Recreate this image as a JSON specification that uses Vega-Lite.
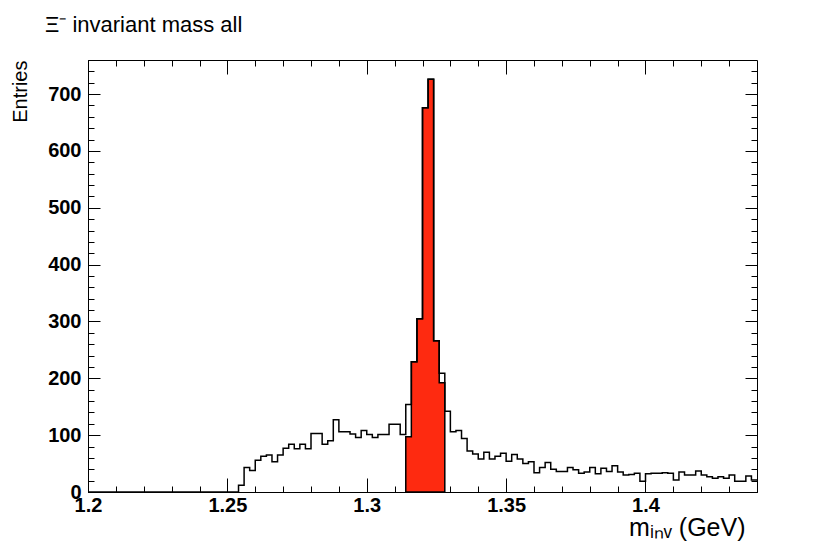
{
  "$schema": "https://vega.github.io/schema/vega-lite/v6.json",
  "autosize": {"type": "none"},
  "padding": {"left": 88, "top": 60, "right": 73, "bottom": 55},
  "width": 669,
  "height": 432,
  "background": "white",
  "title": {
    "text": "Ξ⁻ invariant mass all",
    "anchor": "start",
    "frame": "group",
    "dx": -43,
    "offset": 6,
    "baseline": "alphabetic",
    "font": "Liberation Sans",
    "fontSize": 22,
    "fontWeight": "normal",
    "color": "black"
  },
  "config": {
    "view": {"stroke": "black", "strokeWidth": 1},
    "axis": {"grid": false, "tickColor": "black", "domainColor": "black", "labelColor": "black", "titleColor": "black", "tickWidth": 1}
  },
  "datasets": {
    "all": [
      {"lo": 1.200, "hi": 1.202, "n": 0},
      {"lo": 1.202, "hi": 1.204, "n": 0},
      {"lo": 1.204, "hi": 1.206, "n": 0},
      {"lo": 1.206, "hi": 1.208, "n": 0},
      {"lo": 1.208, "hi": 1.210, "n": 0},
      {"lo": 1.210, "hi": 1.212, "n": 0},
      {"lo": 1.212, "hi": 1.214, "n": 0},
      {"lo": 1.214, "hi": 1.216, "n": 0},
      {"lo": 1.216, "hi": 1.218, "n": 0},
      {"lo": 1.218, "hi": 1.220, "n": 0},
      {"lo": 1.220, "hi": 1.222, "n": 0},
      {"lo": 1.222, "hi": 1.224, "n": 0},
      {"lo": 1.224, "hi": 1.226, "n": 0},
      {"lo": 1.226, "hi": 1.228, "n": 0},
      {"lo": 1.228, "hi": 1.230, "n": 0},
      {"lo": 1.230, "hi": 1.232, "n": 0},
      {"lo": 1.232, "hi": 1.234, "n": 0},
      {"lo": 1.234, "hi": 1.236, "n": 0},
      {"lo": 1.236, "hi": 1.238, "n": 0},
      {"lo": 1.238, "hi": 1.240, "n": 0},
      {"lo": 1.240, "hi": 1.242, "n": 0},
      {"lo": 1.242, "hi": 1.244, "n": 0},
      {"lo": 1.244, "hi": 1.246, "n": 0},
      {"lo": 1.246, "hi": 1.248, "n": 0},
      {"lo": 1.248, "hi": 1.250, "n": 0},
      {"lo": 1.250, "hi": 1.252, "n": 0},
      {"lo": 1.252, "hi": 1.254, "n": 0},
      {"lo": 1.254, "hi": 1.256, "n": 12},
      {"lo": 1.256, "hi": 1.258, "n": 43},
      {"lo": 1.258, "hi": 1.260, "n": 38},
      {"lo": 1.260, "hi": 1.262, "n": 56},
      {"lo": 1.262, "hi": 1.264, "n": 63},
      {"lo": 1.264, "hi": 1.266, "n": 65},
      {"lo": 1.266, "hi": 1.268, "n": 53},
      {"lo": 1.268, "hi": 1.270, "n": 65},
      {"lo": 1.270, "hi": 1.272, "n": 77},
      {"lo": 1.272, "hi": 1.274, "n": 84},
      {"lo": 1.274, "hi": 1.276, "n": 76},
      {"lo": 1.276, "hi": 1.278, "n": 84},
      {"lo": 1.278, "hi": 1.280, "n": 76},
      {"lo": 1.280, "hi": 1.282, "n": 103},
      {"lo": 1.282, "hi": 1.284, "n": 103},
      {"lo": 1.284, "hi": 1.286, "n": 84},
      {"lo": 1.286, "hi": 1.288, "n": 90},
      {"lo": 1.288, "hi": 1.290, "n": 127},
      {"lo": 1.290, "hi": 1.292, "n": 106},
      {"lo": 1.292, "hi": 1.294, "n": 106},
      {"lo": 1.294, "hi": 1.296, "n": 102},
      {"lo": 1.296, "hi": 1.298, "n": 96},
      {"lo": 1.298, "hi": 1.300, "n": 108},
      {"lo": 1.300, "hi": 1.302, "n": 101},
      {"lo": 1.302, "hi": 1.304, "n": 96},
      {"lo": 1.304, "hi": 1.306, "n": 101},
      {"lo": 1.306, "hi": 1.308, "n": 101},
      {"lo": 1.308, "hi": 1.310, "n": 119},
      {"lo": 1.310, "hi": 1.312, "n": 119},
      {"lo": 1.312, "hi": 1.314, "n": 101},
      {"lo": 1.314, "hi": 1.316, "n": 154},
      {"lo": 1.316, "hi": 1.318, "n": 229},
      {"lo": 1.318, "hi": 1.320, "n": 305},
      {"lo": 1.320, "hi": 1.322, "n": 676},
      {"lo": 1.322, "hi": 1.324, "n": 726},
      {"lo": 1.324, "hi": 1.326, "n": 266},
      {"lo": 1.326, "hi": 1.328, "n": 209},
      {"lo": 1.328, "hi": 1.330, "n": 142},
      {"lo": 1.330, "hi": 1.332, "n": 106},
      {"lo": 1.332, "hi": 1.334, "n": 108},
      {"lo": 1.334, "hi": 1.336, "n": 94},
      {"lo": 1.336, "hi": 1.338, "n": 72},
      {"lo": 1.338, "hi": 1.340, "n": 67},
      {"lo": 1.340, "hi": 1.342, "n": 58},
      {"lo": 1.342, "hi": 1.344, "n": 70},
      {"lo": 1.344, "hi": 1.346, "n": 58},
      {"lo": 1.346, "hi": 1.348, "n": 63},
      {"lo": 1.348, "hi": 1.350, "n": 68},
      {"lo": 1.350, "hi": 1.352, "n": 54},
      {"lo": 1.352, "hi": 1.354, "n": 66},
      {"lo": 1.354, "hi": 1.356, "n": 58},
      {"lo": 1.356, "hi": 1.358, "n": 50},
      {"lo": 1.358, "hi": 1.360, "n": 53},
      {"lo": 1.360, "hi": 1.362, "n": 34},
      {"lo": 1.362, "hi": 1.364, "n": 43},
      {"lo": 1.364, "hi": 1.366, "n": 52},
      {"lo": 1.366, "hi": 1.368, "n": 40},
      {"lo": 1.368, "hi": 1.370, "n": 36},
      {"lo": 1.370, "hi": 1.372, "n": 36},
      {"lo": 1.372, "hi": 1.374, "n": 43},
      {"lo": 1.374, "hi": 1.376, "n": 39},
      {"lo": 1.376, "hi": 1.378, "n": 33},
      {"lo": 1.378, "hi": 1.380, "n": 35},
      {"lo": 1.380, "hi": 1.382, "n": 43},
      {"lo": 1.382, "hi": 1.384, "n": 32},
      {"lo": 1.384, "hi": 1.386, "n": 42},
      {"lo": 1.386, "hi": 1.388, "n": 36},
      {"lo": 1.388, "hi": 1.390, "n": 46},
      {"lo": 1.390, "hi": 1.392, "n": 35},
      {"lo": 1.392, "hi": 1.394, "n": 30},
      {"lo": 1.394, "hi": 1.396, "n": 31},
      {"lo": 1.396, "hi": 1.398, "n": 33},
      {"lo": 1.398, "hi": 1.400, "n": 19},
      {"lo": 1.400, "hi": 1.402, "n": 32},
      {"lo": 1.402, "hi": 1.404, "n": 33},
      {"lo": 1.404, "hi": 1.406, "n": 33},
      {"lo": 1.406, "hi": 1.408, "n": 34},
      {"lo": 1.408, "hi": 1.410, "n": 33},
      {"lo": 1.410, "hi": 1.412, "n": 21},
      {"lo": 1.412, "hi": 1.414, "n": 35},
      {"lo": 1.414, "hi": 1.416, "n": 30},
      {"lo": 1.416, "hi": 1.418, "n": 30},
      {"lo": 1.418, "hi": 1.420, "n": 37},
      {"lo": 1.420, "hi": 1.422, "n": 30},
      {"lo": 1.422, "hi": 1.424, "n": 27},
      {"lo": 1.424, "hi": 1.426, "n": 24},
      {"lo": 1.426, "hi": 1.428, "n": 27},
      {"lo": 1.428, "hi": 1.430, "n": 24},
      {"lo": 1.430, "hi": 1.432, "n": 30},
      {"lo": 1.432, "hi": 1.434, "n": 19},
      {"lo": 1.434, "hi": 1.436, "n": 19},
      {"lo": 1.436, "hi": 1.438, "n": 28},
      {"lo": 1.438, "hi": 1.440, "n": 21}
    ],
    "sel": [
      {"lo": 1.314, "hi": 1.316, "n": 97},
      {"lo": 1.316, "hi": 1.318, "n": 229},
      {"lo": 1.318, "hi": 1.320, "n": 305},
      {"lo": 1.320, "hi": 1.322, "n": 676},
      {"lo": 1.322, "hi": 1.324, "n": 726},
      {"lo": 1.324, "hi": 1.326, "n": 266},
      {"lo": 1.326, "hi": 1.328, "n": 192}
    ]
  },
  "resolve": {"axis": {"x": "independent", "y": "independent"}},
  "layer": [
    {
      "data": {"name": "sel"},
      "transform": [{"fold": ["lo", "hi"], "as": ["edge", "xv"]}],
      "mark": {"type": "area", "fill": "#fe2a10", "stroke": "black", "strokeWidth": 1.5, "opacity": 1, "fillOpacity": 1},
      "encoding": {
        "x": {
          "field": "xv", "type": "quantitative",
          "scale": {"domain": [1.2, 1.44], "nice": false, "zero": false},
          "axis": {
            "orient": "bottom",
            "values": [1.2, 1.25, 1.3, 1.35, 1.4],
            "format": "~g",
            "tickSize": -14,
            "labelPadding": 17,
            "labelFlush": false,
            "labelOverlap": false,
            "labelFont": "Liberation Sans",
            "labelFontSize": 20,
            "labelFontWeight": "bold",
            "labelBaseline": "top",
            "domain": true,
            "title": "mᵢₙᵥ (GeV)",
            "titleFont": "Liberation Sans",
            "titleFontSize": 25,
            "titleFontWeight": "normal",
            "titleX": 657,
            "titleY": 43,
            "titleAlign": "right",
            "titleBaseline": "alphabetic"
          }
        },
        "y": {
          "field": "n", "type": "quantitative", "stack": null,
          "scale": {"domain": [0, 760], "nice": false},
          "axis": {
            "orient": "left",
            "values": [0, 100, 200, 300, 400, 500, 600, 700],
            "format": "d",
            "tickSize": -12,
            "labelPadding": 19,
            "labelFlush": false,
            "labelOverlap": false,
            "labelFont": "Liberation Sans",
            "labelFontSize": 20,
            "labelFontWeight": "bold",
            "domain": true,
            "title": "Entries",
            "titleFont": "Liberation Sans",
            "titleFontSize": 20,
            "titleFontWeight": "normal",
            "titleX": -68,
            "titleY": 0,
            "titleAngle": -90,
            "titleAlign": "right",
            "titleBaseline": "middle"
          }
        },
        "order": [{"field": "xv", "type": "quantitative"}, {"field": "edge", "type": "nominal"}]
      }
    },
    {
      "data": {"name": "all"},
      "transform": [{"fold": ["lo", "hi"], "as": ["edge", "xv"]}],
      "mark": {"type": "line", "color": "black", "strokeWidth": 1.5},
      "encoding": {
        "x": {
          "field": "xv", "type": "quantitative",
          "scale": {"domain": [1.2, 1.44], "nice": false, "zero": false},
          "axis": {
            "orient": "bottom",
            "values": [1.2, 1.21, 1.22, 1.23, 1.24, 1.25, 1.26, 1.27, 1.28, 1.29, 1.3, 1.31, 1.32, 1.33, 1.34, 1.35, 1.36, 1.37, 1.38, 1.39, 1.4, 1.41, 1.42, 1.43],
            "tickSize": -6,
            "labels": false,
            "domain": false,
            "title": null
          }
        },
        "y": {
          "field": "n", "type": "quantitative",
          "scale": {"domain": [0, 760], "nice": false},
          "axis": {
            "orient": "left",
            "values": [0, 20, 40, 60, 80, 100, 120, 140, 160, 180, 200, 220, 240, 260, 280, 300, 320, 340, 360, 380, 400, 420, 440, 460, 480, 500, 520, 540, 560, 580, 600, 620, 640, 660, 680, 700, 720, 740],
            "tickSize": -6,
            "labels": false,
            "domain": false,
            "title": null
          }
        },
        "order": [{"field": "xv", "type": "quantitative"}, {"field": "edge", "type": "nominal"}]
      }
    },
    {
      "data": {"name": "sel"},
      "mark": {"type": "point", "opacity": 0},
      "encoding": {
        "x": {
          "field": "lo", "type": "quantitative",
          "scale": {"domain": [1.2, 1.44], "nice": false, "zero": false},
          "axis": {"orient": "top", "values": [1.2, 1.25, 1.3, 1.35, 1.4], "tickSize": -14, "labels": false, "domain": false, "title": null}
        },
        "y": {
          "field": "n", "type": "quantitative",
          "scale": {"domain": [0, 760], "nice": false},
          "axis": {"orient": "right", "values": [0, 100, 200, 300, 400, 500, 600, 700], "tickSize": -12, "labels": false, "domain": false, "title": null}
        }
      }
    },
    {
      "data": {"name": "sel"},
      "mark": {"type": "point", "opacity": 0},
      "encoding": {
        "x": {
          "field": "lo", "type": "quantitative",
          "scale": {"domain": [1.2, 1.44], "nice": false, "zero": false},
          "axis": {"orient": "top", "values": [1.2, 1.21, 1.22, 1.23, 1.24, 1.25, 1.26, 1.27, 1.28, 1.29, 1.3, 1.31, 1.32, 1.33, 1.34, 1.35, 1.36, 1.37, 1.38, 1.39, 1.4, 1.41, 1.42, 1.43], "tickSize": -6, "labels": false, "domain": false, "title": null}
        },
        "y": {
          "field": "n", "type": "quantitative",
          "scale": {"domain": [0, 760], "nice": false},
          "axis": {"orient": "right", "values": [0, 20, 40, 60, 80, 100, 120, 140, 160, 180, 200, 220, 240, 260, 280, 300, 320, 340, 360, 380, 400, 420, 440, 460, 480, 500, 520, 540, 560, 580, 600, 620, 640, 660, 680, 700, 720, 740], "tickSize": -6, "labels": false, "domain": false, "title": null}
        }
      }
    }
  ]
}
